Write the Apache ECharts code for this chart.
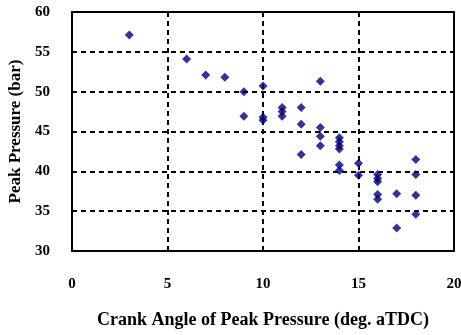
<!DOCTYPE html>
<html>
<head>
<meta charset="utf-8">
<script src="https://cdn.jsdelivr.net/npm/echarts@6/dist/echarts.min.js"></script>
<style>html,body{margin:0;padding:0;background:#fff;}#c{width:461px;height:335px;}</style>
</head>
<body>
<div id="c"></div>
<script>
var crankAngle = [3, 6, 7, 8, 9, 9, 10, 10, 10, 11, 11, 11, 12, 12, 12, 13, 13, 13, 13, 14, 14, 14, 14, 14, 14, 15, 15, 16, 16, 16, 16, 16, 17, 17, 18, 18, 18, 18];
var peakPressure = [57.1, 54.1, 52.1, 51.8, 50.0, 46.9, 50.7, 46.8, 46.4, 48.0, 47.5, 46.9, 48.0, 45.9, 42.1, 51.3, 45.5, 44.4, 43.2, 44.2, 43.7, 43.2, 42.8, 40.8, 40.1, 41.0, 39.5, 39.6, 39.1, 38.7, 37.1, 36.5, 37.2, 32.9, 41.5, 39.6, 37.0, 34.6];
var xTicks = [0, 5, 10, 15, 20];
var yTicks = [30, 35, 40, 45, 50, 55, 60];
var xTitle = 'Crank Angle of Peak Pressure (deg. aTDC)';
var yTitle = 'Peak Pressure (bar)';

var points = crankAngle.map(function (x, i) { return [x, peakPressure[i]]; });
var font = 'Liberation Serif';
var chart = echarts.init(document.getElementById('c'));
chart.setOption({
  animation: false,
  backgroundColor: '#fff',
  grid: { left: 72, right: 7, top: 12, bottom: 84, show: true, borderColor: '#000', borderWidth: 2, backgroundColor: 'transparent', containLabel: false, outerBoundsMode: 'none' },
  xAxis: {
    type: 'value', min: xTicks[0], max: xTicks[xTicks.length - 1], interval: 5,
    name: xTitle, nameLocation: 'middle', nameGap: 60,
    nameTextStyle: { fontFamily: font, fontWeight: 'bold', fontSize: 18, color: '#000' },
    axisLine: { show: true, lineStyle: { color: '#000', width: 2 } },
    axisTick: { show: true, inside: true, length: 5, lineStyle: { color: '#000', width: 2 } },
    axisLabel: { margin: 26, fontFamily: font, fontWeight: 'bold', fontSize: 15, color: '#000' },
    splitLine: { show: true, lineStyle: { color: '#000', width: 2, type: [5, 4] } }
  },
  yAxis: {
    type: 'value', min: yTicks[0], max: yTicks[yTicks.length - 1], interval: 5,
    name: yTitle, nameLocation: 'middle', nameGap: 46,
    nameTextStyle: { fontFamily: font, fontWeight: 'bold', fontSize: 17, color: '#000' },
    axisLine: { show: true, lineStyle: { color: '#000', width: 2 } },
    axisTick: { show: false },
    axisLabel: { margin: 22, fontFamily: font, fontWeight: 'bold', fontSize: 15, color: '#000' },
    splitLine: { show: true, lineStyle: { color: '#000', width: 2, type: [5, 4] } }
  },
  series: [{
    type: 'scatter', data: points, symbol: 'diamond', symbolSize: 9,
    itemStyle: { color: '#000080' }
  }]
});
</script>
</body>
</html>
